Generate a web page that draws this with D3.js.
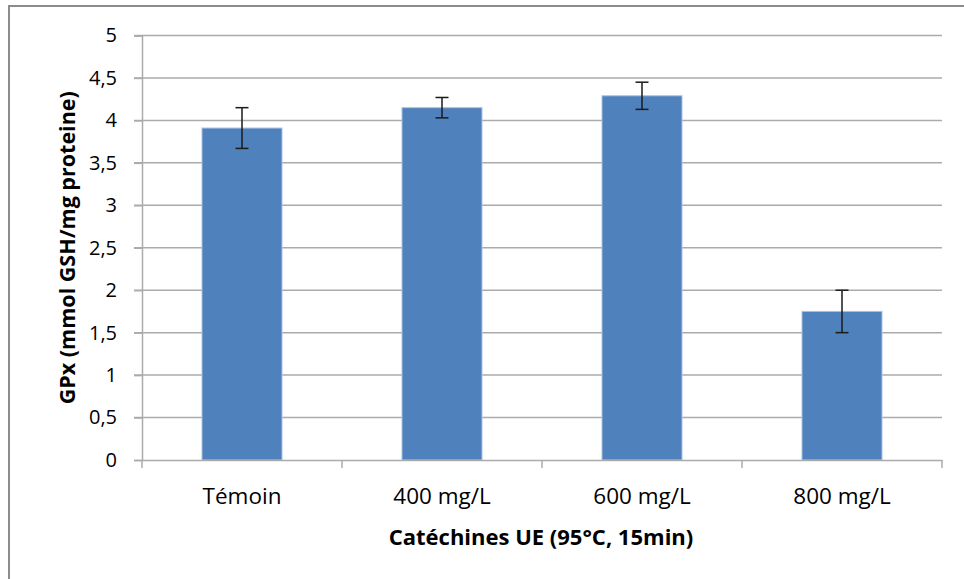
<!DOCTYPE html>
<html>
<head>
<meta charset="utf-8">
<script src="https://cdn.jsdelivr.net/npm/d3@7"></script>
<style>
  html, body { margin: 0; padding: 0; background: #fff; }
  svg { display: block; }
  text { font-family: "Open Sans", "Liberation Sans", sans-serif; fill: #000; }
</style>
</head>
<body>
<svg id="chart" width="964" height="579"></svg>
<script>
// GPx activity per catechin concentration, with standard deviation
const categories = ["Témoin", "400 mg/L", "600 mg/L", "800 mg/L"];
const values = [3.91, 4.15, 4.29, 1.75];
const errors = [0.24, 0.12, 0.16, 0.25];
const yTicks = [0, 0.5, 1, 1.5, 2, 2.5, 3, 3.5, 4, 4.5, 5];
const xTitle = "Catéchines UE (95°C, 15min)";
const yTitle = "GPx (mmol GSH/mg proteine)";

const svg = d3.select("#chart");
const margin = { left: 142, right: 22, top: 35.5, bottom: 119 };
const W = 964, H = 579;

// outer frame
svg.append("rect")
  .attr("x", 9).attr("y", 6)
  .attr("width", W + 10).attr("height", H + 10)
  .attr("fill", "#fff").attr("stroke", "#8c8c8c").attr("stroke-width", 2);

const x = d3.scaleBand()
  .domain(categories)
  .range([margin.left, W - margin.right])
  .paddingInner(0.6).paddingOuter(0.3);

const y = d3.scaleLinear()
  .domain([0, 5])
  .range([H - margin.bottom, margin.top]);

const fmt = d => d3.format("")(d).replace(".", ",");

// horizontal gridlines
svg.append("g")
  .selectAll("line")
  .data(yTicks.filter(d => d > 0))
  .join("line")
  .attr("x1", margin.left - 8).attr("x2", W - margin.right)
  .attr("y1", d => y(d)).attr("y2", d => y(d))
  .attr("stroke", "#ababab").attr("stroke-width", 1.5);

// y axis
const yAxis = svg.append("g")
  .attr("transform", `translate(${margin.left},0)`)
  .call(d3.axisLeft(y).tickValues(yTicks).tickFormat(fmt).tickSize(8).tickPadding(17));
yAxis.select(".domain").attr("stroke", "#ababab").attr("stroke-width", 1.5);
yAxis.selectAll(".tick line").attr("stroke", "#ababab").attr("stroke-width", 1.5);
yAxis.selectAll(".tick text")
  .attr("font-size", 20).attr("font-family", "'Open Sans', sans-serif").attr("fill", "#000");

// bars
svg.append("g")
  .selectAll("rect")
  .data(values)
  .join("rect")
  .attr("x", (d, i) => x(categories[i]))
  .attr("y", d => y(d))
  .attr("width", x.bandwidth())
  .attr("height", d => y(0) - y(d))
  .attr("fill", "#4f81bd")
  .attr("stroke", "#a9c1e0").attr("stroke-width", 1);

// x axis
const xAxis = svg.append("g")
  .attr("transform", `translate(0,${y(0)})`)
  .call(d3.axisBottom(x).tickSize(0));
xAxis.select(".domain").attr("stroke", "#ababab").attr("stroke-width", 1.5);
xAxis.selectAll(".tick text")
  .attr("y", 44).attr("dy", 0)
  .attr("font-size", 22.5).attr("font-family", "'Open Sans', sans-serif").attr("fill", "#000");

// category separator ticks
const step = x.step();
const edges = d3.range(categories.length + 1).map(i => margin.left + i * step);
svg.append("g")
  .selectAll("line")
  .data(edges)
  .join("line")
  .attr("x1", d => d).attr("x2", d => d)
  .attr("y1", y(0)).attr("y2", y(0) + 8)
  .attr("stroke", "#ababab").attr("stroke-width", 1.5);

// error bars
const eb = svg.append("g").attr("stroke", "#1a1a1a").attr("stroke-width", 1.5);
values.forEach((v, i) => {
  const cx = x(categories[i]) + x.bandwidth() / 2;
  const top = y(v + errors[i]), bot = y(v - errors[i]);
  eb.append("line").attr("x1", cx).attr("x2", cx).attr("y1", top).attr("y2", bot);
  eb.append("line").attr("x1", cx - 6.5).attr("x2", cx + 6.5).attr("y1", top).attr("y2", top);
  eb.append("line").attr("x1", cx - 6.5).attr("x2", cx + 6.5).attr("y1", bot).attr("y2", bot);
});

// axis titles
svg.append("text")
  .attr("x", 541).attr("y", 545)
  .attr("text-anchor", "middle")
  .attr("font-size", 22).attr("font-weight", "bold")
  .text(xTitle);

svg.append("text")
  .attr("transform", `translate(75,${(y(0) + y(5)) / 2}) rotate(-90)`)
  .attr("text-anchor", "middle")
  .attr("font-size", 21.5).attr("font-weight", "bold")
  .text(yTitle);
</script>
</body>
</html>
